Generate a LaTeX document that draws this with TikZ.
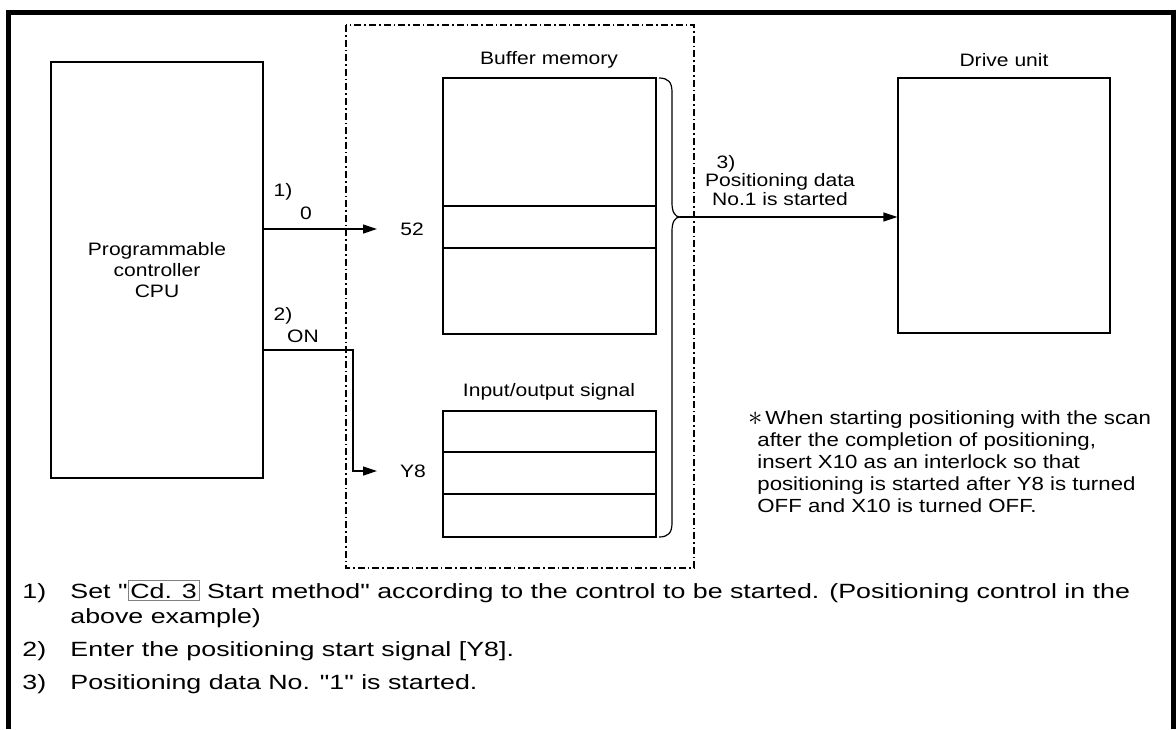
\documentclass[tikz,border=0pt]{standalone}
\usepackage{fontspec}
\setmainfont{Liberation Sans}[FakeStretch=1.17, Ligatures=TeXOff]
\newfontfamily\widefont{Liberation Sans}[FakeStretch=1.3, Ligatures=TeXOff]
\usetikzlibrary{arrows.meta,calc}

\newcommand{\cdbox}[1]{{\setlength{\fboxsep}{1pt}\setlength{\fboxrule}{0.4pt}\fcolorbox{gray}{white}{#1}}}

\tikzset{
  blk/.style={draw, line width=0.6pt, inner sep=0pt},
  lbl/.style={font=\fontsize{9}{10.5}\selectfont, inner sep=1pt},
  sig/.style={line width=0.6pt, line join=miter, -{Triangle[length=7pt,width=4.5pt]}},
  dashdot/.style={line width=0.7pt, dash pattern=on 3.5pt off 1.5pt on 0.8pt off 1.5pt},
  item/.style={font=\widefont\fontsize{10.3}{12}\selectfont, anchor=base west, inner sep=0pt},
  notetxt/.style={font=\fontsize{9.5}{11}\selectfont, anchor=base west, inner sep=0pt},
}

\begin{document}
\begin{tikzpicture}[x=0.5pt, y=-0.5pt]
  \useasboundingbox (0,0) rectangle (1176,729);

  % outer frame, open at the bottom
  \draw[line width=2.5pt, line join=miter] (8.5,729) -- (8.5,12.5) -- (1173,12.5) -- (1173,729);

  % positioning module (dash-dot)
  \draw[dashdot] (346,25) rectangle (694,568);

  % boxes
  \node[blk, lbl, inner sep=0pt, minimum width=106pt, minimum height=208pt, align=center] (cpu) at (157,270) {Programmable\\controller\\CPU};
  \node[blk, minimum width=106.5pt, minimum height=128pt] (buf) at (549.5,206) {};
  \node[blk, minimum width=106.5pt, minimum height=63pt] (io) at (549.5,474) {};
  \node[blk, minimum width=106pt, minimum height=127.5pt] (drv) at (1004,205.5) {};

  % rows of the buffer memory and the signals
  \foreach \yy in {206,248}
    \draw[line width=0.6pt] (buf.west |- 0,\yy) -- (buf.east |- 0,\yy);
  \foreach \yy in {452,494}
    \draw[line width=0.6pt] (io.west |- 0,\yy) -- (io.east |- 0,\yy);

  % titles
  \node[lbl] (buftitle) at (549,60) {Buffer memory};
  \node[lbl] (drvtitle) at (1004,60) {Drive unit};
  \node[lbl] (iotitle) at (549,392) {Input/output signal};

  % 1) write 0 to 52
  \node[lbl] (addr) at (412,229) {52};
  \coordinate (a1) at (377,229);
  \draw[sig] (cpu.east |- a1) -- (a1);
  \node[lbl] (n1) at (283,192) {1)};
  \node[lbl] (val1) at (306,213) {0};

  % 2) Y8 ON
  \node[lbl] (ysig) at (413,471) {Y8};
  \coordinate (a2) at (377,471);
  \draw[sig] (cpu.east |- 0,350) -| (353,471) -- (a2);
  \node[lbl] (n2) at (283,316) {2)};
  \node[lbl] (val2) at (303,336) {ON};

  % brace and 3)
  \coordinate (tip) at (680,217);
  \draw[line width=0.6pt] (659,78) .. controls (668,78) and (672,82) .. (672,92) -- (672,203)
    .. controls (672,212) and (675,217) .. (tip)
    .. controls (675,217) and (672,222) .. (672,231) -- (672,523)
    .. controls (672,533) and (668,537) .. (659,537);
  \draw[sig] (tip) -- (drv.west |- tip);
  \node[lbl] (n3) at (726,164) {3)};
  \node[lbl, align=center, font=\fontsize{9}{9.5}\selectfont] (start) at (780,190) {Positioning data\\No.1 is started};

  % note
  \node[inner sep=0pt] (star) at (756,419) {\Large$\ast$};
  \node[notetxt] (note1) at (765,424) {When starting positioning with the scan};
  \node[notetxt] (note2) at (757,446) {after the completion of positioning,};
  \node[notetxt] (note3) at (757,468) {insert X10 as an interlock so that};
  \node[notetxt] (note4) at (757,490) {positioning is started after Y8 is turned};
  \node[notetxt] (note5) at (757,512) {OFF and X10 is turned OFF.};

  % explanation below
  \node[item] (i1) at (22,598) {1)};
  \node[item] (t1) at (70,598) {Set "\cdbox{Cd. 3} Start method" according to the control to be started. (Positioning control in the};
  \node[item] (t1b) at (70,623) {above example)};
  \node[item] (i2) at (22,656) {2)};
  \node[item] (t2) at (70,656) {Enter the positioning start signal [Y8].};
  \node[item] (i3) at (22,689) {3)};
  \node[item] (t3) at (70,689) {Positioning data No. "1" is started.};
\end{tikzpicture}
\end{document}
